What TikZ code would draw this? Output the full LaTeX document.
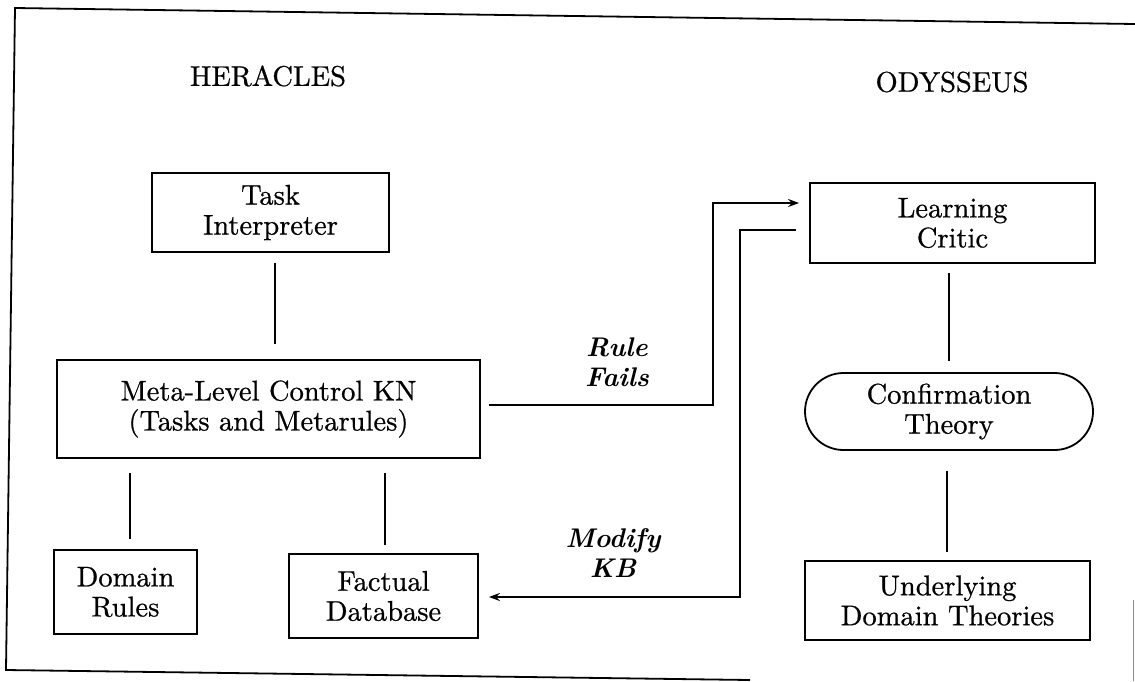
\documentclass[tikz,border=0pt]{standalone}
\usepackage{fontspec}
\setmainfont{lmroman10-regular.otf}[BoldFont=lmroman10-bold.otf,ItalicFont=lmroman10-italic.otf,BoldItalicFont=lmroman10-bolditalic.otf,UprightFeatures={FakeBold=0.7}]
\usetikzlibrary{arrows.meta,shapes.misc}
\begin{document}
\begin{tikzpicture}[x=1pt,y=-1pt,
  every node/.style={font=\fontsize{28.5}{30}\selectfont},
  box/.style={draw,line width=1.8pt,inner sep=0pt,align=center},
  lbl/.style={align=center,font=\fontsize{27}{30}\selectfont\bfseries\itshape},
  conn/.style={line width=1.8pt},
  arr/.style={line width=1.8pt,-{Stealth[length=11pt,width=8pt]}}]
\useasboundingbox (0,0) rectangle (1135,681);
% frame (scanned, slightly skewed)
\draw[line width=1.8pt] (1135,24) -- (15,8) -- (6,670) -- (750,680);
\draw[line width=1pt,black!45] (1133,600) -- (1133,681);
% titles
\node (her) at (268,76) {HERACLES};
\node (ody) at (952,82) {ODYSSEUS};
% HERACLES boxes
\node[box,minimum width=237pt,minimum height=79pt] (ti) at (270.5,212.5) {Task\\Interpreter};
\node[box,minimum width=423pt,minimum height=98pt] (meta) at (268.5,409) {Meta-Level Control KN\\(Tasks and Metarules)};
\node[box,minimum width=143pt,minimum height=84pt] (dr) at (125.5,592) {Domain\\Rules};
\node[box,minimum width=189pt,minimum height=84pt] (fd) at (383.5,596) {Factual\\Database};
% ODYSSEUS boxes
\node[box,minimum width=285pt,minimum height=80pt] (lc) at (952.5,223) {Learning\\Critic};
\node[box,rounded rectangle,minimum width=288pt,minimum height=77pt] (ct) at (949,411.5) {Confirmation\\Theory};
\node[box,minimum width=285pt,minimum height=79pt] (ud) at (947.5,600.5) {Underlying\\Domain Theories};
% helper coordinates
\coordinate (c1) at (275,0);
\coordinate (c2) at (130,0);
\coordinate (c3) at (385,0);
\coordinate (c4) at (949,0);
\coordinate (c5) at (947,0);
\coordinate (rf) at (713,405);
\coordinate (rft) at (713,203);
\coordinate (mk) at (740,230);
\coordinate (mkb) at (740,597);
% plain connectors
\draw[conn,shorten <=10pt,shorten >=15pt] (ti.south -| c1) -- (meta.north -| c1);
\draw[conn,shorten <=14pt,shorten >=10pt] (meta.south -| c2) -- (dr.north -| c2);
\draw[conn,shorten <=14pt,shorten >=8pt] (meta.south -| c3) -- (fd.north -| c3);
\draw[conn,shorten <=9pt,shorten >=11pt] (lc.south -| c4) -- (ct.north -| c4);
\draw[conn,shorten <=20pt,shorten >=8pt] (ct.south -| c5) -- (ud.north -| c5);
% arrows
\draw[arr,shorten <=8pt,shorten >=10pt] (meta.east |- rf) -- (rf) -- (rft) -- (lc.west |- rft);
\draw[arr,shorten <=13pt,shorten >=10pt] (lc.west |- mk) -- (mk) -- (mkb) -- (fd.east |- mkb);
% labels
\node[lbl] (rfl) at (617,362) {Rule\\Fails};
\node[lbl] (mkl) at (613,553) {Modify\\KB};
\end{tikzpicture}
\end{document}
